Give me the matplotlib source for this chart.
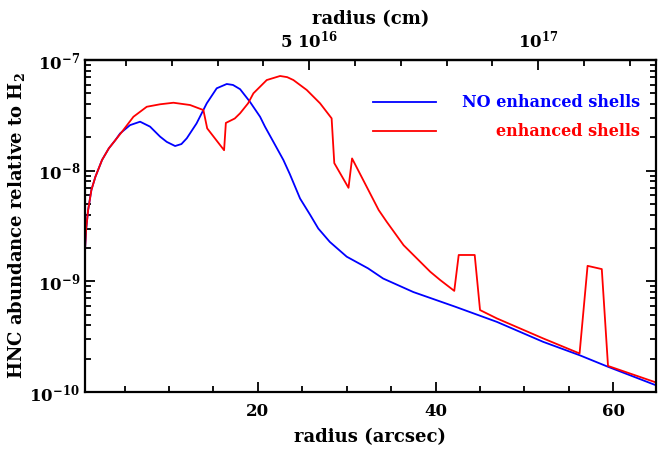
import matplotlib
matplotlib.use("Agg")
import matplotlib.pyplot as plt
from matplotlib.ticker import MultipleLocator, FixedLocator, NullFormatter

plt.rcParams['font.family'] = 'DejaVu Serif'
plt.rcParams['font.weight'] = 'bold'
plt.rcParams['axes.labelweight'] = 'bold'
plt.rcParams['mathtext.fontset'] = 'custom'
plt.rcParams['mathtext.rm'] = 'DejaVu Serif:bold'
plt.rcParams['mathtext.default'] = 'rm'
plt.rcParams['font.size'] = 12

# HNC abundance profiles (radius in arcsec, abundance relative to H2)
r_plain = [0.55, 0.67, 0.9, 1.27, 1.72, 2.47, 3.23, 3.97, 4.5, 5.62, 6.75,
           7.87, 9.0, 9.75, 10.69, 11.4, 12.0, 13.1, 14.25, 15.37, 16.5, 17.2,
           18.0, 19.1, 20.25, 20.8, 21.75, 22.87, 23.6, 24.75, 25.9, 26.8,
           28.1, 30.0, 32.4, 34.1, 37.5, 42.2, 46.9, 52.1, 56.2, 59.4, 64.8]
x_plain = [1.91e-9, 2.9e-9, 4.4e-9, 6.7e-9, 8.8e-9, 1.25e-8, 1.59e-8, 1.89e-8,
           2.17e-8, 2.58e-8, 2.77e-8, 2.50e-8, 2.03e-8, 1.82e-8, 1.67e-8,
           1.74e-8, 1.96e-8, 2.67e-8, 4.06e-8, 5.55e-8, 6.07e-8, 5.95e-8,
           5.45e-8, 4.2e-8, 3.07e-8, 2.5e-8, 1.82e-8, 1.25e-8, 9.3e-9, 5.6e-9,
           3.97e-9, 3.0e-9, 2.27e-9, 1.67e-9, 1.31e-9, 1.06e-9, 8.0e-10,
           5.9e-10, 4.3e-10, 2.84e-10, 2.15e-10, 1.69e-10, 1.15e-10]

r_shells = [0.55, 0.67, 0.9, 1.27, 1.72, 2.47, 3.23, 3.97, 4.72, 6.0, 7.5,
            9.0, 10.5, 12.37, 13.87, 14.3, 16.2, 16.4, 17.4, 18.0, 18.9, 19.5,
            20.25, 21.0, 22.5, 23.3, 24.0, 25.5, 27.0, 28.3, 28.6, 30.2, 30.6,
            33.6, 34.5, 36.4, 39.4, 40.5, 42.1, 42.6, 44.4, 45.0, 46.9, 52.1,
            56.2, 57.1, 58.7, 59.4, 64.8]
x_shells = [1.91e-9, 2.9e-9, 4.4e-9, 6.7e-9, 8.8e-9, 1.25e-8, 1.59e-8, 1.89e-8,
            2.25e-8, 3.07e-8, 3.78e-8, 3.98e-8, 4.11e-8, 3.92e-8, 3.53e-8,
            2.41e-8, 1.53e-8, 2.7e-8, 2.96e-8, 3.3e-8, 4.06e-8, 5.0e-8, 5.74e-8,
            6.59e-8, 7.17e-8, 7.0e-8, 6.59e-8, 5.36e-8, 4.06e-8, 2.97e-8,
            1.17e-8, 7.0e-9, 1.29e-8, 4.4e-9, 3.45e-9, 2.12e-9, 1.22e-9,
            1.03e-9, 8.2e-10, 1.73e-9, 1.73e-9, 5.5e-10, 4.62e-10, 3.05e-10,
            2.23e-10, 1.38e-9, 1.29e-9, 1.72e-10, 1.22e-10]

labels = ["NO enhanced shells", "enhanced shells"]
colors = ["#0000ff", "#ff0000"]

# arcsec -> cm at the source distance
cm_per_arcsec = 1.94e15
top_major = [5e16, 1e17]
top_labels = [r"5 10$^{16}$", r"10$^{17}$"]

fig = plt.figure(figsize=(6.58, 4.54), dpi=100)
ax = fig.add_axes([85 / 658, 62 / 454, 571 / 658, 332 / 454])

ax.plot(r_plain, x_plain, color=colors[0], lw=1.3)
ax.plot(r_shells, x_shells, color=colors[1], lw=1.3)

ax.set_yscale('log')
ax.set_xlim(0.55, 64.8)
ax.set_ylim(1e-10, 1e-7)

ax.xaxis.set_major_locator(MultipleLocator(20))
ax.xaxis.set_minor_locator(MultipleLocator(5))
ax.tick_params(which='both', direction='in', right=True, width=1.3)
ax.tick_params(axis='x', which='both', top=False)
ax.tick_params(which='major', length=7)
ax.tick_params(which='minor', length=4)
ax.tick_params(axis='x', pad=8)
for s in ax.spines.values():
    s.set_linewidth(1.6)

ax.set_xlabel("radius (arcsec)", fontsize=13, labelpad=6)
ax.set_ylabel("HNC abundance relative to H$_2$", fontsize=13, labelpad=2)

# top axis in cm
sec = ax.secondary_xaxis('top', functions=(lambda r: r * cm_per_arcsec,
                                           lambda c: c / cm_per_arcsec))
sec.xaxis.set_major_locator(FixedLocator(top_major))
sec.set_xticklabels(top_labels)
sec.xaxis.set_minor_locator(MultipleLocator(1e16))
sec.xaxis.set_minor_formatter(NullFormatter())
sec.tick_params(which='both', direction='in', width=1.3)
sec.tick_params(which='major', length=7, pad=6)
sec.tick_params(which='minor', length=4)
sec.set_xlabel("radius (cm)", fontsize=13, labelpad=4)
sec.spines['top'].set_linewidth(1.6)

# legend drawn by hand: short line segments with right-aligned labels
for i, (lab, c) in enumerate(zip(labels, colors)):
    yy = 0.873 - i * 0.087
    ax.plot([0.504, 0.615], [yy, yy], color=c, lw=1.3, transform=ax.transAxes)
    ax.text(0.972, yy, lab, color=c, ha='right', va='center', fontsize=11.5,
            transform=ax.transAxes)

fig.savefig("out.png", dpi=100)
